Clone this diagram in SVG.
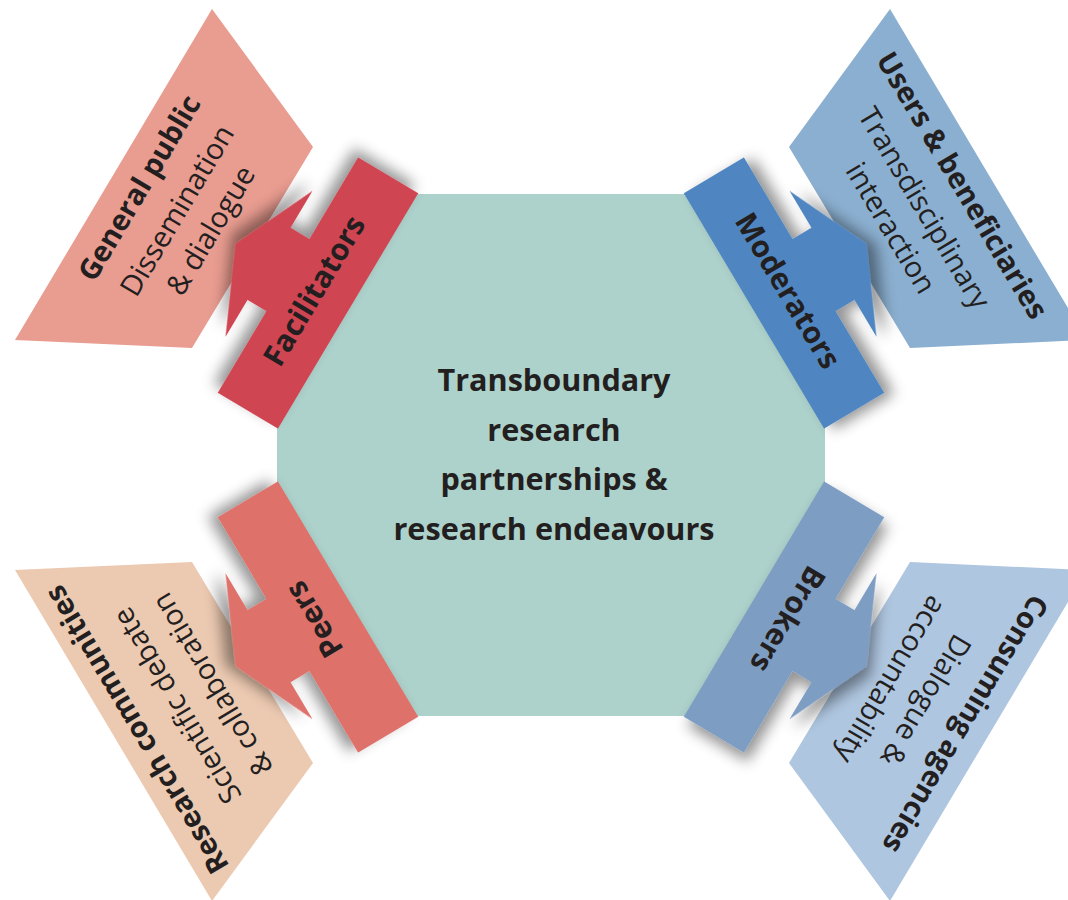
<svg xmlns="http://www.w3.org/2000/svg" width="1068" height="900" viewBox="0 0 1068 900">
<defs>
<style>
text{font-family:"Open Sans","Liberation Sans",sans-serif;fill:#231F20;text-anchor:middle}
.b{font-weight:700}
.r{font-weight:400}
.t29{font-size:29px}
.t30{font-size:30px}
.t31{font-size:30.6px}
</style>
<filter id="sh" x="-40%" y="-40%" width="180%" height="180%">
<feDropShadow dx="8" dy="6" stdDeviation="7" flood-color="#000" flood-opacity="0.42"/>
</filter>
<path id="bararrow" d="M-35,-137 L35,-137 L35,-42 L57,-42 L57,-85 L96,0 L57,85 L57,42 L35,42 L35,137 L-35,137 Z"/>
</defs>
<rect width="1068" height="900" fill="#fff"/>

<g id="general-public">
<polygon points="212,9 313,147 192,348 15,340" fill="#E99C90"/>
<g transform="translate(178,211) rotate(-59.2)">
<text class="b t29" x="0" y="-35">General public</text>
<text class="r t29" x="0" y="9">Dissemination</text>
<text class="r t29" x="0" y="48">&amp; dialogue</text>
</g>
</g>

<g id="users-beneficiaries">
<polygon points="890,9 789,147 910,348 1087,340" fill="#8BAFD0"/>
<g transform="translate(923.5,208.5) rotate(59.2)">
<text class="b t29" x="0" y="-35">Users &amp; beneficiaries</text>
<text class="r t29" x="0" y="9">Transdisciplinary</text>
<text class="r t29" x="0" y="48">interaction</text>
</g>
</g>

<g id="research-communities">
<polygon points="15,570 192,562 313,763 212,901" fill="#ECC9B1"/>
<g transform="translate(178,705) rotate(-120.8)">
<text class="b t29" x="0" y="-38">Research communities</text>
<text class="r t29" x="0" y="9">Scientific debate</text>
<text class="r t29" x="0" y="50">&amp; collaboration</text>
</g>
</g>

<g id="consuming-agencies">
<polygon points="1087,570 910,562 789,763 890,901" fill="#AFC6E0"/>
<g transform="translate(925,700) rotate(120.8)">
<text class="b t29" x="0" y="-37">Consuming agencies</text>
<text class="r t29" x="0" y="9">Dialogue &amp;</text>
<text class="r t29" x="0" y="50">accountability</text>
</g>
</g>

<g id="hub">
<polygon points="417,194 685,194 825,428 825,482 685,716 417,716 277,482 277,428" fill="#ADD2CB"/>
<text class="b t31" x="554" y="391">Transboundary</text>
<text class="b t31" x="554" y="441">research</text>
<text class="b t31" x="554" y="490">partnerships &amp;</text>
<text class="b t31" x="554" y="540">research endeavours</text>
</g>

<g id="connectors">
<g id="facilitators">
<use href="#bararrow" transform="translate(318,293) rotate(210.8)" fill="#CF4551" filter="url(#sh)"/>
<text class="b t30" transform="translate(318,293) rotate(-59.2)" x="0" y="6">Facilitators</text>
</g>
<g id="moderators">
<use href="#bararrow" transform="translate(784,293) rotate(-30.8)" fill="#5086C1" filter="url(#sh)"/>
<text class="b t30" transform="translate(784,293) rotate(59.2)" x="0" y="6">Moderators</text>
</g>
<g id="peers">
<use href="#bararrow" transform="translate(318,617) rotate(149.2)" fill="#DE716B" filter="url(#sh)"/>
<text class="b t30" transform="translate(318,617) rotate(-120.8)" x="0" y="6">Peers</text>
</g>
<g id="brokers">
<use href="#bararrow" transform="translate(784,617) rotate(30.8)" fill="#7E9DC3" filter="url(#sh)"/>
<text class="b t30" transform="translate(784,617) rotate(120.8)" x="0" y="6">Brokers</text>
</g>
</g>
</svg>
